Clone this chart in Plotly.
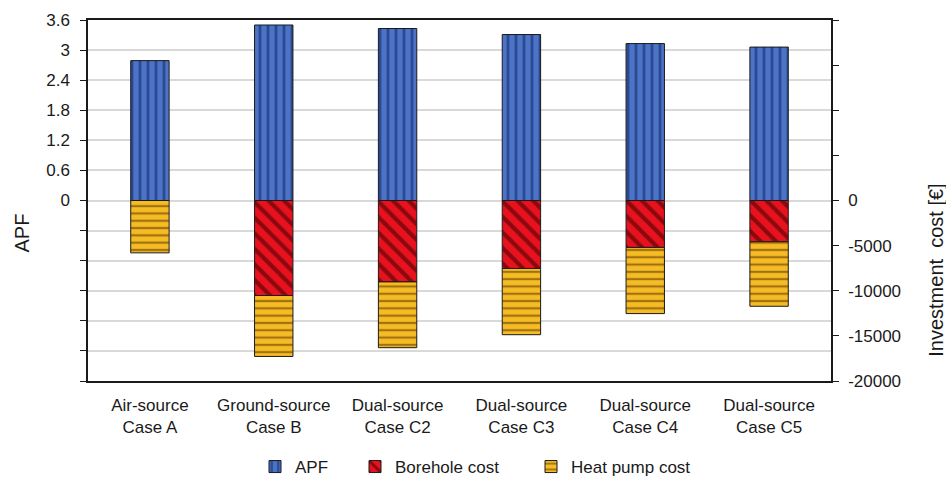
import plotly.graph_objects as go

# Cases compared
categories = ["Air-source<br>Case A", "Ground-source<br>Case B", "Dual-source<br>Case C2",
              "Dual-source<br>Case C3", "Dual-source<br>Case C4", "Dual-source<br>Case C5"]

# Annual performance factor (left axis)
apf = [2.79, 3.50, 3.43, 3.31, 3.13, 3.06]

# Investment costs in EUR, drawn downward on the right axis
borehole_cost = [0, -10530, -9020, -7530, -5200, -4570]
heat_pump_cost = [-5800, -6750, -7290, -7340, -7330, -7150]

apf_ticks = [-3.6, -3.0, -2.4, -1.8, -1.2, -0.6, 0, 0.6, 1.2, 1.8, 2.4, 3.0, 3.6]
apf_tick_text = ["", "", "", "", "", "", "0", "0.6", "1.2", "1.8", "2.4", "3", "3.6"]
cost_ticks = [-20000, -15000, -10000, -5000, 0, 5000, 10000, 15000, 20000]
cost_tick_text = ["-20000", "-15000", "-10000", "-5000", "0", "", "", "", ""]

FONT = "Liberation Sans, Arial, sans-serif"
TXT = "#1a1a1a"
BAR_W = 0.31
EDGE = dict(color="#1a1a1a", width=1)
W, H = 946, 477

fig = go.Figure()

fig.add_trace(go.Bar(
    x=categories, y=apf, name="APF", width=BAR_W, yaxis="y", legend="legend",
    marker=dict(color="#4b74c6", line=EDGE,
                pattern=dict(shape="|", fillmode="overlay", fgcolor="#0c1d5a",
                             size=8, solidity=0.35)),
))
fig.add_trace(go.Bar(
    x=categories, y=borehole_cost, name="Borehole cost", width=BAR_W, yaxis="y2",
    legend="legend2",
    marker=dict(color="#e8121e", line=EDGE,
                pattern=dict(shape="\\", fillmode="overlay", fgcolor="#2a0000",
                             size=11, solidity=0.38)),
))
fig.add_trace(go.Bar(
    x=categories, y=heat_pump_cost, name="Heat pump cost", width=BAR_W, yaxis="y2",
    legend="legend3",
    marker=dict(color="#f6bc24", line=EDGE,
                pattern=dict(shape="-", fillmode="overlay", fgcolor="#4a2600",
                             size=7.3, solidity=0.3)),
))


def legend_box(left_px):
    # one legend entry, anchored by its left edge in container pixels
    return dict(orientation="h", xref="container", x=left_px / W, xanchor="left",
                yref="container", y=10 / H, yanchor="middle",
                font=dict(size=17, color=TXT), bgcolor="rgba(0,0,0,0)")


fig.update_layout(
    width=W, height=H,
    margin=dict(l=88, r=115, t=20, b=96, autoexpand=False),
    paper_bgcolor="white", plot_bgcolor="white",
    barmode="relative",
    font=dict(family=FONT, size=17, color=TXT),
    showlegend=True,
    legend=legend_box(255),
    legend2=legend_box(355),
    legend3=legend_box(531),
    xaxis=dict(
        showline=True, linecolor="#1a1a1a", linewidth=1.5, mirror=True,
        ticks="", showgrid=False, tickfont=dict(size=17, color=TXT),
        ticklabelstandoff=8, automargin=False,
    ),
    yaxis=dict(
        range=[-3.6, 3.6], tickvals=apf_ticks, ticktext=apf_tick_text,
        showline=True, linecolor="#1a1a1a", linewidth=1.5,
        ticks="outside", ticklen=6, tickcolor="#1a1a1a",
        showgrid=True, gridcolor="#d9d9d9", gridwidth=1.5,
        zeroline=True, zerolinecolor="#d9d9d9", zerolinewidth=1.5,
        tickfont=dict(size=17, color=TXT), ticklabelstandoff=7, automargin=False,
    ),
    yaxis2=dict(
        range=[-20000, 20000], tickvals=cost_ticks, ticktext=cost_tick_text,
        overlaying="y", side="right",
        showline=True, linecolor="#1a1a1a", linewidth=1.5,
        ticks="outside", ticklen=6, tickcolor="#1a1a1a",
        showgrid=False, zeroline=False,
        tickfont=dict(size=17, color=TXT), ticklabelstandoff=6, automargin=False,
    ),
    annotations=[
        dict(text="APF", xref="paper", yref="paper", x=-0.0895, y=0.41,
             xanchor="center", yanchor="middle", textangle=-90, showarrow=False,
             font=dict(size=20, color=TXT)),
        dict(text="Investment\u00a0 cost [€]", xref="paper", yref="paper", x=1.141, y=0.3075,
             xanchor="center", yanchor="middle", textangle=-90, showarrow=False,
             font=dict(size=20, color=TXT)),
    ],
)

fig.write_html("out.html")
